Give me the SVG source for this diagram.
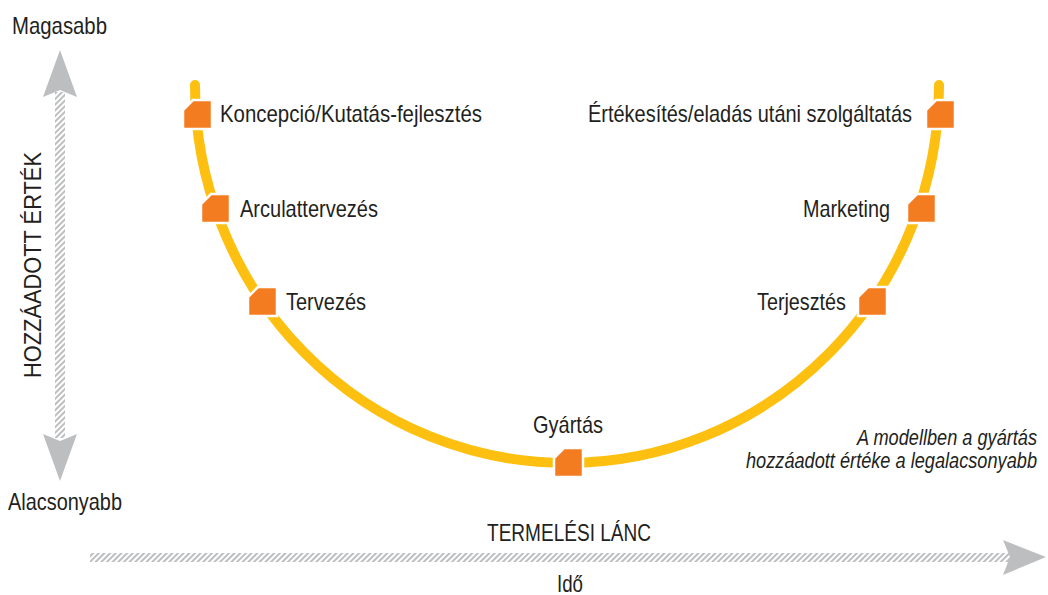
<svg xmlns="http://www.w3.org/2000/svg" width="1048" height="595" viewBox="0 0 1048 595">
<style>
.t{font-family:"Liberation Sans",Arial,sans-serif;font-size:24px;fill:#231f20}
.i{font-style:italic;font-size:22px}
.n{fill:#f47c20;stroke:#ffffff;stroke-width:2.5}
.hatch{fill:url(#hp)}
.head{fill:#bcbec0}
</style>
<defs>
<pattern id="hp" patternUnits="userSpaceOnUse" width="4" height="4" patternTransform="rotate(45)">
<rect width="4" height="4" fill="#ffffff"/>
<rect width="2" height="4" fill="#bcbec0"/>
</pattern>
<path id="nd" d="M10,0 H29 V29 H0 V10 Z"/>
</defs>
<rect width="1048" height="595" fill="#ffffff"/>
<g id="connectors">
<path d="M195,85 A372,378 0 0 0 939,85" fill="none" stroke="#fdc010" stroke-width="10" stroke-linecap="round"/>
</g>
<g id="axis-y">
<rect class="hatch" x="55" y="92" width="10" height="346"/>
<path class="head" d="M60,50 L77,97 L60,90 L43,97 Z"/>
<path class="head" d="M60,481 L77,434 L60,441 L43,434 Z"/>
<text class="t" x="12" y="34" textLength="95" lengthAdjust="spacingAndGlyphs">Magasabb</text>
<text class="t" x="8" y="510" textLength="114" lengthAdjust="spacingAndGlyphs">Alacsonyabb</text>
<text class="t" transform="translate(41,265) rotate(-90)" text-anchor="middle" font-size="22" textLength="226" lengthAdjust="spacingAndGlyphs">HOZZÁADOTT ÉRTÉK</text>
</g>
<g id="axis-x">
<rect class="hatch" x="90" y="553" width="920" height="9"/>
<path class="head" d="M1046,557 L1003,540 L1010,557 L1003,575 Z"/>
<text class="t" x="487" y="541" textLength="164" lengthAdjust="spacingAndGlyphs">TERMELÉSI LÁNC</text>
<text class="t" x="557" y="592" textLength="26" lengthAdjust="spacingAndGlyphs">Idő</text>
</g>
<g id="n1"><use href="#nd" class="n" x="183" y="100"/><text class="t" x="220" y="122" textLength="262" lengthAdjust="spacingAndGlyphs">Koncepció/Kutatás-fejlesztés</text></g>
<g id="n2"><use href="#nd" class="n" x="201" y="194"/><text class="t" x="240" y="217" textLength="138" lengthAdjust="spacingAndGlyphs">Arculattervezés</text></g>
<g id="n3"><use href="#nd" class="n" x="248" y="287"/><text class="t" x="286" y="310" textLength="80" lengthAdjust="spacingAndGlyphs">Tervezés</text></g>
<g id="n4"><use href="#nd" class="n" x="554" y="448"/><text class="t" x="533" y="433" textLength="70" lengthAdjust="spacingAndGlyphs">Gyártás</text></g>
<g id="n5"><use href="#nd" class="n" x="858" y="287"/><text class="t" x="757" y="310" textLength="89" lengthAdjust="spacingAndGlyphs">Terjesztés</text></g>
<g id="n6"><use href="#nd" class="n" x="907" y="194"/><text class="t" x="803" y="217" textLength="87" lengthAdjust="spacingAndGlyphs">Marketing</text></g>
<g id="n7"><use href="#nd" class="n" x="926" y="100"/><text class="t" x="588" y="122" textLength="324" lengthAdjust="spacingAndGlyphs">Értékesítés/eladás utáni szolgáltatás</text></g>
<g id="note">
<text class="t i" x="857" y="445" textLength="180" lengthAdjust="spacingAndGlyphs">A modellben a gyártás</text>
<text class="t i" x="746" y="468" textLength="291" lengthAdjust="spacingAndGlyphs">hozzáadott értéke a legalacsonyabb</text>
</g>
</svg>
